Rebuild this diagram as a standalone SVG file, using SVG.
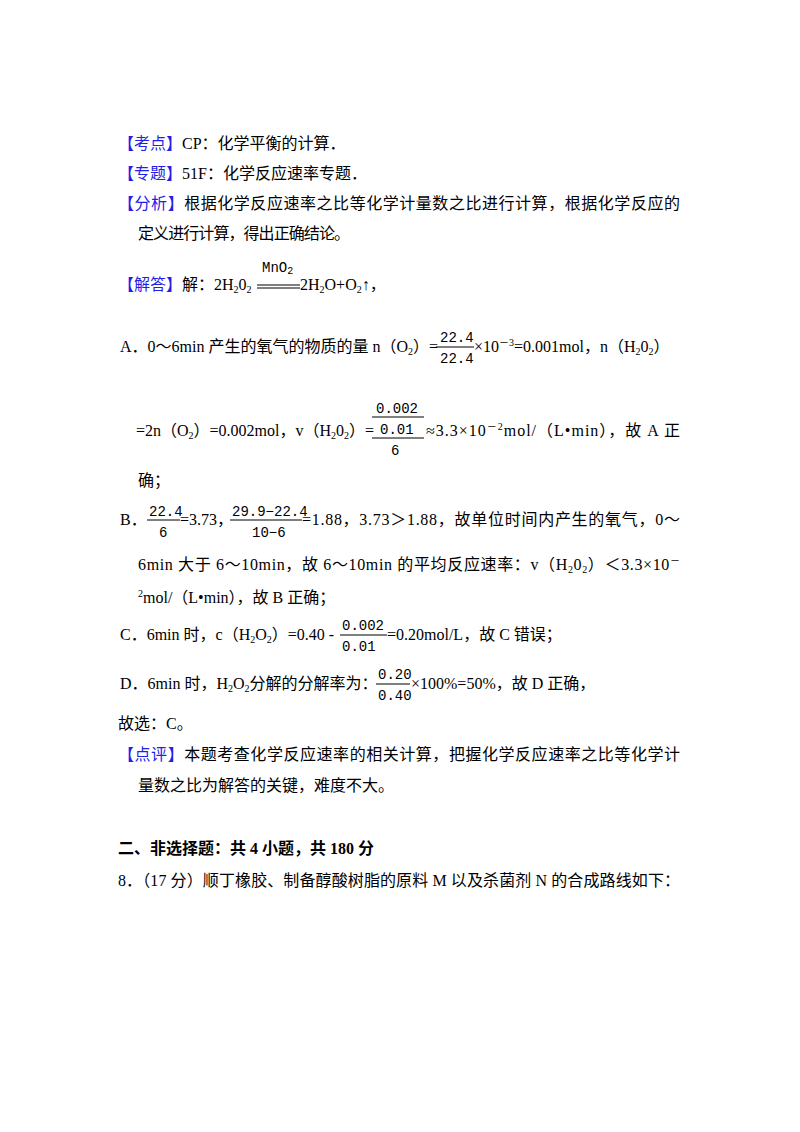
<svg xmlns="http://www.w3.org/2000/svg" width="800" height="1132" viewBox="0 0 800 1132">
<style>
text{font-family:"Liberation Serif","Noto Sans CJK SC",serif;font-size:16px;fill:#000}
.b{fill:#1f1fe6}
.s{font-size:10px}
.m{font-family:"Liberation Mono","DejaVu Sans Mono",monospace;font-size:14px}
.h{font-weight:bold}
line{stroke:#000;stroke-width:1}
</style>
<rect width="800" height="1132" fill="#fff"/>
<text x="118" y="149"><tspan class="b">【考点】</tspan>CP：化学平衡的计算．</text>
<text x="118" y="179"><tspan class="b">【专题】</tspan>51F：化学反应速率专题．</text>
<text x="118" y="209" textLength="562"><tspan class="b">【分析】</tspan>根据化学反应速率之比等化学计量数之比进行计算，根据化学反应的</text>
<text x="138" y="239" textLength="212">定义进行计算，得出正确结论。</text>
<text x="118" y="290"><tspan class="b">【解答】</tspan>解：2H<tspan class="s" dy="3">2</tspan><tspan dy="-3">0</tspan><tspan class="s" dy="3">2</tspan></text>
<text class="m" x="262" y="272">MnO<tspan class="s" dy="2">2</tspan></text>
<line x1="257" y1="285" x2="300" y2="285"/><line x1="257" y1="288" x2="300" y2="288"/>
<text x="300" y="290">2H<tspan class="s" dy="3">2</tspan><tspan dy="-3">O+O</tspan><tspan class="s" dy="3">2</tspan><tspan dy="-3">↑，</tspan></text>
<text x="120" y="352">A．0～6min 产生的氧气的物质的量 n（O<tspan class="s" dy="3">2</tspan><tspan dy="-3">）=</tspan></text>
<text class="m" x="440" y="342">22.4</text><line x1="436" y1="347" x2="474" y2="347"/><text class="m" x="440" y="363">22.4</text>
<text x="474" y="352">×10<tspan class="s" dy="-6">－3</tspan><tspan dy="6">=0.001mol，n（H</tspan><tspan class="s" dy="3">2</tspan><tspan dy="-3">0</tspan><tspan class="s" dy="3">2</tspan><tspan dy="-3">）</tspan></text>
<text x="136" y="436">=2n（O<tspan class="s" dy="3">2</tspan><tspan dy="-3">）=0.002mol，v（H</tspan><tspan class="s" dy="3">2</tspan><tspan dy="-3">0</tspan><tspan class="s" dy="3">2</tspan><tspan dy="-3">）=</tspan></text>
<text class="m" x="376" y="413">0.002</text><line x1="372" y1="417" x2="424" y2="417"/>
<text class="m" x="380" y="434">0.01</text><line x1="372" y1="438" x2="424" y2="438"/>
<text class="m" x="391" y="455">6</text>
<text x="426" y="436" textLength="254">≈3.3×10<tspan class="s" dy="-6">－2</tspan><tspan dy="6">mol/（L•min），故 A 正</tspan></text>
<text x="138" y="486">确；</text>
<text x="120" y="525">B．</text>
<text class="m" x="149" y="516">22.4</text><line x1="147" y1="520" x2="180" y2="520"/><text class="m" x="159" y="537">6</text>
<text x="180" y="525">=3.73，</text>
<text class="m" x="232" y="516">29.9−22.4</text><line x1="230" y1="520" x2="302" y2="520"/><text class="m" x="252" y="537">10−6</text>
<text x="302" y="525" textLength="378">=1.88，3.73＞1.88，故单位时间内产生的氧气，0～</text>
<text x="138" y="570" textLength="542">6min 大于 6～10min，故 6～10min 的平均反应速率：v（H<tspan class="s" dy="3">2</tspan><tspan dy="-3">0</tspan><tspan class="s" dy="3">2</tspan><tspan dy="-3">）＜3.3×10</tspan><tspan class="s" dy="-6">－</tspan></text>
<text x="138" y="603"><tspan class="s" dy="-6">2</tspan><tspan dy="6">mol/（L•min），故 B 正确；</tspan></text>
<text x="120" y="640">C．6min 时，c（H<tspan class="s" dy="3">2</tspan><tspan dy="-3">O</tspan><tspan class="s" dy="3">2</tspan><tspan dy="-3">）=0.40 -</tspan></text>
<text class="m" x="342" y="630">0.002</text><line x1="340" y1="635" x2="387" y2="635"/><text class="m" x="342" y="651">0.01</text>
<text x="387" y="640">=0.20mol/L，故 C 错误；</text>
<text x="120" y="689">D．6min 时，H<tspan class="s" dy="3">2</tspan><tspan dy="-3">O</tspan><tspan class="s" dy="3">2</tspan><tspan dy="-3">分解的分解率为：</tspan></text>
<text class="m" x="378" y="679">0.20</text><line x1="376" y1="684" x2="410" y2="684"/><text class="m" x="378" y="700">0.40</text>
<text x="411" y="689">×100%=50%，故 D 正确，</text>
<text x="118" y="729">故选：C。</text>
<text x="118" y="760" textLength="562"><tspan class="b">【点评】</tspan>本题考查化学反应速率的相关计算，把握化学反应速率之比等化学计</text>
<text x="138" y="791">量数之比为解答的关键，难度不大。</text>
<text class="h" x="118" y="854">二、非选择题：共 4 小题，共 180 分</text>
<text x="118" y="886" textLength="562">8．（17 分）顺丁橡胶、制备醇酸树脂的原料 M 以及杀菌剂 N 的合成路线如下：</text>
</svg>
